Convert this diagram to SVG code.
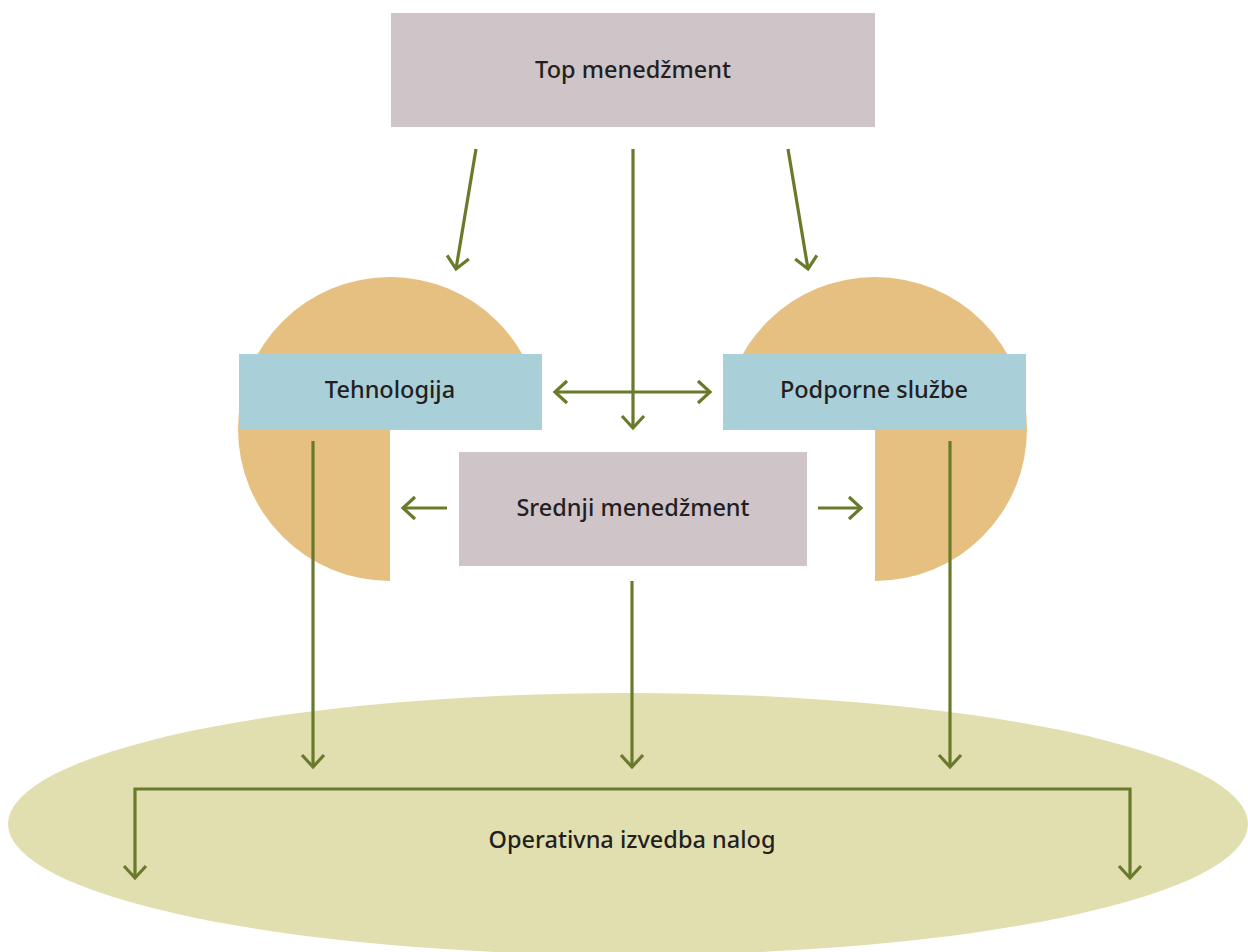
<svg xmlns="http://www.w3.org/2000/svg" width="1248" height="952" viewBox="0 0 1248 952">
  <style>
    .mgmt { fill: #cfc4c8; }
    .dept { fill: #a9cfd8; }
    .disc { fill: #e5c081; }
    .base { fill: #e1dfb0; }
    .label { font-family: "Noto Sans", "Open Sans", sans-serif; font-size: 23.5px; font-weight: 500; fill: #231f20; text-anchor: middle; dominant-baseline: central; }
    .wire { fill: none; stroke: #6a7a2b; stroke-width: 3.2; }
  </style>
  <defs>
    <marker id="ah" viewBox="-16 -16 22 32" markerWidth="22" markerHeight="32" refX="0" refY="0" orient="auto-start-reverse" markerUnits="userSpaceOnUse">
      <path d="M-12,-11 L0,0 L-12,11" fill="none" stroke="#6a7a2b" stroke-width="3.2"/>
    </marker>
  </defs>

  <rect width="1248" height="952" fill="#ffffff"/>

  <!-- operational base -->
  <g id="operativna">
    <ellipse class="base" cx="628" cy="824" rx="620" ry="131"/>
    <text class="label" x="632" y="839">Operativna izvedba nalog</text>
  </g>

  <!-- top management -->
  <g id="top">
    <rect class="mgmt" x="391" y="13" width="484" height="114"/>
    <text class="label" x="633" y="69">Top menedžment</text>
  </g>

  <!-- technology: half disc plus lower-left quarter behind the band -->
  <g id="tehnologija">
    <path class="disc" d="M238,429 A152,152 0 0 1 542,429 L390,429 L390,581 A152,152 0 0 1 238,429 Z"/>
    <rect class="dept" x="239" y="354" width="303" height="76"/>
    <text class="label" x="390" y="389">Tehnologija</text>
  </g>

  <!-- support services: half disc plus lower-right quarter -->
  <g id="podporne">
    <path class="disc" d="M723,429 A152,152 0 0 1 1027,429 A152,152 0 0 1 875,581 L875,429 Z"/>
    <rect class="dept" x="723" y="354" width="303" height="76"/>
    <text class="label" x="874" y="389">Podporne službe</text>
  </g>

  <!-- middle management -->
  <g id="srednji">
    <rect class="mgmt" x="459" y="452" width="348" height="114"/>
    <text class="label" x="633" y="507">Srednji menedžment</text>
  </g>

  <!-- connectors -->
  <g id="connectors">
    <line class="wire" x1="476" y1="149" x2="456" y2="269" marker-end="url(#ah)"/>
    <line class="wire" x1="633" y1="149" x2="633" y2="428" marker-end="url(#ah)"/>
    <line class="wire" x1="788" y1="149" x2="808" y2="269" marker-end="url(#ah)"/>
    <line class="wire" x1="555" y1="392" x2="710" y2="392" marker-start="url(#ah)" marker-end="url(#ah)"/>
    <line class="wire" x1="447" y1="508" x2="403" y2="508" marker-end="url(#ah)"/>
    <line class="wire" x1="818" y1="508" x2="861" y2="508" marker-end="url(#ah)"/>
    <line class="wire" x1="313" y1="441" x2="313" y2="767" marker-end="url(#ah)"/>
    <line class="wire" x1="632" y1="581" x2="632" y2="767" marker-end="url(#ah)"/>
    <line class="wire" x1="950" y1="441" x2="950" y2="767" marker-end="url(#ah)"/>
    <polyline class="wire" points="135,878 135,789 1130,789 1130,878" marker-start="url(#ah)" marker-end="url(#ah)"/>
  </g>
</svg>
